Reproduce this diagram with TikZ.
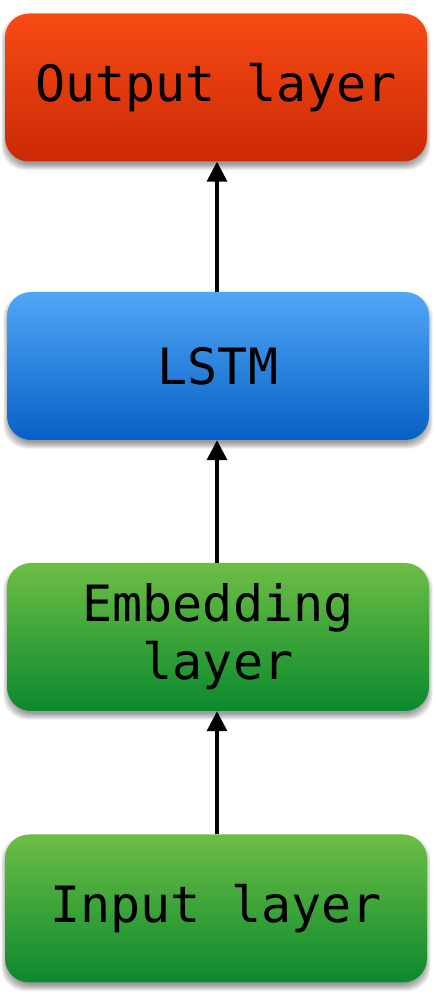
\documentclass[tikz,border=0pt]{standalone}
\usepackage{fontspec}
\setmonofont{DejaVu Sans Mono}
\usetikzlibrary{arrows.meta,backgrounds}
\definecolor{redtop}{HTML}{F84B15}
\definecolor{redbot}{HTML}{CB2905}
\definecolor{bluetop}{HTML}{51A6F7}
\definecolor{bluebot}{HTML}{0761C5}
\definecolor{greentop}{HTML}{6DBE45}
\definecolor{greenbot}{HTML}{0A892D}
\tikzset{
  layerbox/.style={rounded corners=24pt, minimum width=422pt, minimum height=148pt,
    inner sep=0pt, align=center, text=black,
    font=\ttfamily\fontsize{50}{58}\selectfont},
  redbox/.style={layerbox, top color=redtop, bottom color=redbot},
  bluebox/.style={layerbox, top color=bluetop, bottom color=bluebot},
  greenbox/.style={layerbox, top color=greentop, bottom color=greenbot},
  conn/.style={line width=3.5pt, -{Triangle[length=20pt,width=20pt]}}
}
\newcommand{\mysoftshadow}[1]{%
  \foreach \i in {0,...,7}{%
    \pgfmathsetmacro{\ex}{3.5-0.9*\i}%
    \fill[black, opacity=0.06, rounded corners=24pt]
      ([shift={(-\ex pt,-5pt-\ex pt)}]#1.south west) rectangle ([shift={(\ex pt,-5pt+\ex pt)}]#1.north east);
  }%
}
\begin{document}
\begin{tikzpicture}[x=1pt,y=1pt]
\useasboundingbox (0,0) rectangle (436,1004);
\node[redbox]   (out)  at (216,916.5) {Output layer};
\node[bluebox]  (lstm) at (218,638)   {LSTM};
\node[greenbox] (emb)  at (218,367)   {Embedding\\layer};
\node[greenbox] (inp)  at (216,95.5)  {Input layer};
\begin{scope}[on background layer]
  \mysoftshadow{out}
  \mysoftshadow{lstm}
  \mysoftshadow{emb}
  \mysoftshadow{inp}
\end{scope}
\coordinate (a1) at (217,170);
\coordinate (a2) at (217,564);
\coordinate (a3) at (217,842);
\draw[conn] (inp.north -| a1) -- (emb.south -| a1);
\draw[conn] (emb.north -| a2) -- (lstm.south -| a2);
\draw[conn] (lstm.north -| a3) -- (out.south -| a3);
\end{tikzpicture}
\end{document}
